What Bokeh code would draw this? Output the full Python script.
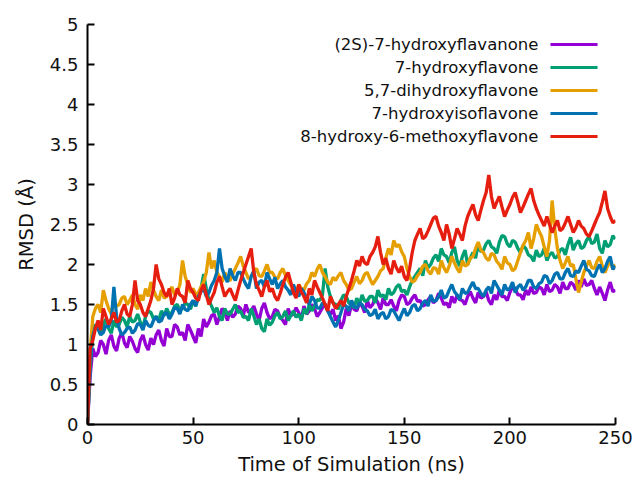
from bokeh.plotting import figure
from bokeh.models import Range1d, FixedTicker, Label
from bokeh.embed import file_html
from bokeh.resources import INLINE

# ---------------- data (RMSD in Å, sampled every 1.25 ns) ----------------
time_ns = [i * 1.25 for i in range(201)]

flavanone_2s = [
    0.0, 0.6, 0.95, 0.85, 0.9, 1.05, 1.0, 0.88, 1.05, 1.12, 0.98, 0.92, 1.08, 1.15, 1.02, 0.96,
    1.1, 1.04, 0.95, 0.9, 1.05, 1.12, 1.0, 0.93, 1.08, 1.0, 1.12, 1.18, 1.05, 0.98, 1.2, 1.1,
    1.1, 1.25, 1.22, 1.12, 1.15, 1.05, 1.25, 1.18, 1.1, 1.02, 1.2, 1.1, 1.32, 1.22, 1.28, 1.36,
    1.38, 1.25, 1.35, 1.45, 1.4, 1.3, 1.42, 1.34, 1.38, 1.48, 1.45, 1.36, 1.5, 1.4, 1.42, 1.48,
    1.38, 1.3, 1.45, 1.52, 1.4, 1.32, 1.35, 1.44, 1.42, 1.34, 1.3, 1.25, 1.45, 1.36, 1.38, 1.46,
    1.4, 1.32, 1.48, 1.38, 1.42, 1.5, 1.45, 1.35, 1.4, 1.46, 1.5, 1.42, 1.38, 1.44, 1.3, 1.36,
    1.2, 1.28, 1.45, 1.36, 1.5, 1.44, 1.42, 1.52, 1.48, 1.4, 1.55, 1.46, 1.5, 1.58, 1.52, 1.44,
    1.58, 1.5, 1.5, 1.56, 1.48, 1.42, 1.55, 1.62, 1.6, 1.5, 1.52, 1.58, 1.62, 1.54, 1.55, 1.48,
    1.5, 1.56, 1.6, 1.52, 1.55, 1.64, 1.58, 1.5, 1.52, 1.46, 1.6, 1.52, 1.62, 1.56, 1.55, 1.5,
    1.6, 1.66, 1.58, 1.52, 1.65, 1.58, 1.6, 1.66, 1.55, 1.5, 1.62, 1.56, 1.68, 1.6, 1.6, 1.55,
    1.65, 1.72, 1.7, 1.62, 1.62, 1.56, 1.68, 1.62, 1.72, 1.64, 1.65, 1.72, 1.7, 1.62, 1.75, 1.66,
    1.68, 1.75, 1.72, 1.64, 1.78, 1.7, 1.7, 1.78, 1.75, 1.68, 1.8, 1.72, 1.82, 1.74, 1.75, 1.8,
    1.7, 1.62, 1.72, 1.64, 1.55, 1.68, 1.78, 1.66, 1.68]

hydroxyflavone_7 = [
    0.0, 0.7, 1.15, 1.25, 1.2, 1.12, 1.25, 1.32, 1.2, 1.14, 1.3, 1.22, 1.25, 1.34, 1.3, 1.22,
    1.35, 1.28, 1.3, 1.38, 1.28, 1.22, 1.35, 1.42, 1.4, 1.32, 1.35, 1.3, 1.42, 1.36, 1.45, 1.38,
    1.4, 1.48, 1.5, 1.42, 1.45, 1.52, 1.5, 1.44, 1.55, 1.48, 1.6, 1.7, 1.88, 1.7, 1.55, 1.48,
    1.4, 1.46, 1.35, 1.3, 1.45, 1.38, 1.38, 1.44, 1.5, 1.4, 1.42, 1.34, 1.35, 1.3, 1.45, 1.36,
    1.25, 1.32, 1.2, 1.16, 1.32, 1.24, 1.28, 1.36, 1.4, 1.32, 1.35, 1.42, 1.3, 1.36, 1.42, 1.34,
    1.38, 1.3, 1.45, 1.38, 1.5, 1.42, 1.48, 1.56, 1.55, 1.62, 1.95, 1.72, 1.6, 1.52, 1.5, 1.44,
    1.55, 1.62, 1.6, 1.52, 1.5, 1.46, 1.58, 1.5, 1.62, 1.54, 1.55, 1.6, 1.6, 1.52, 1.68, 1.6,
    1.62, 1.56, 1.7, 1.62, 1.65, 1.72, 1.75, 1.66, 1.68, 1.62, 1.72, 1.8, 1.85, 1.9, 1.95, 1.86,
    2.05, 1.96, 2.0, 2.08, 2.12, 2.04, 2.2, 2.12, 2.1, 2.02, 2.15, 2.22, 2.05, 1.98, 2.1, 2.18,
    2.0, 2.08, 2.15, 2.08, 2.25, 2.16, 2.18, 2.26, 2.3, 2.22, 2.2, 2.14, 2.28, 2.36, 2.35, 2.26,
    2.22, 2.3, 2.28, 2.2, 2.15, 2.24, 2.2, 2.12, 2.1, 2.04, 2.18, 2.1, 2.12, 2.2, 2.05, 2.12,
    2.15, 2.08, 2.1, 2.18, 2.2, 2.12, 2.25, 2.34, 2.18, 2.26, 2.3, 2.2, 2.22, 2.3, 2.35, 2.26,
    2.28, 2.38, 2.2, 2.14, 2.3, 2.22, 2.25, 2.36, 2.32]

dihydroxyflavone_57 = [
    0.0, 0.9, 1.35, 1.45, 1.5, 1.4, 1.68, 1.55, 1.45, 1.38, 1.55, 1.48, 1.5, 1.58, 1.6, 1.5,
    1.55, 1.62, 1.5, 1.44, 1.62, 1.55, 1.7, 1.6, 1.78, 1.68, 1.6, 1.55, 1.68, 1.58, 1.6, 1.66,
    1.72, 1.62, 1.65, 1.75, 2.05, 1.85, 1.75, 1.65, 1.7, 1.62, 1.65, 1.72, 1.78, 1.9, 2.15, 1.95,
    2.05, 1.9, 1.85, 1.78, 1.9, 1.82, 1.8, 1.88, 1.95, 2.02, 2.1, 1.98, 1.9, 1.82, 1.85, 1.92,
    1.95, 1.86, 1.85, 1.92, 2.0, 1.9, 1.9, 1.84, 1.82, 1.9, 1.95, 1.86, 1.8, 1.74, 1.7, 1.64,
    1.75, 1.7, 1.68, 1.76, 1.8, 1.9, 1.85, 1.94, 2.0, 1.9, 1.85, 1.78, 1.75, 1.84, 1.8, 1.86,
    1.9, 1.8, 1.75, 1.68, 1.7, 1.78, 1.85, 1.76, 1.8, 1.88, 1.9, 1.82, 1.75, 1.8, 1.85, 1.92,
    1.95, 2.08, 2.2, 2.12, 2.3, 2.22, 2.25, 2.16, 2.1, 1.95, 1.85, 1.78, 1.8, 1.86, 1.9, 1.98,
    2.0, 1.92, 1.88, 1.96, 1.95, 1.88, 2.05, 1.96, 1.9, 1.98, 2.1, 2.02, 1.95, 1.9, 2.05, 1.98,
    2.0, 2.08, 2.1, 2.2, 2.28, 2.18, 2.15, 2.08, 2.05, 2.14, 2.12, 2.04, 2.0, 1.94, 2.1, 2.02,
    2.0, 1.92, 1.95, 2.05, 2.15, 2.24, 2.3, 2.4, 2.2, 2.32, 2.5, 2.42, 2.35, 2.22, 2.1, 2.3,
    2.8, 2.45, 2.2, 2.05, 1.95, 2.02, 2.1, 1.98, 2.0, 1.82, 1.65, 1.78, 1.9, 1.98, 2.05, 1.96,
    1.95, 2.04, 2.1, 1.98, 1.9, 1.98, 2.05, 1.94, 2.0]

hydroxyisoflavone_7 = [
    0.0, 0.8, 1.1, 1.22, 1.2, 1.12, 1.15, 1.24, 1.22, 1.3, 1.72, 1.35, 1.2, 1.12, 1.15, 1.2,
    1.22, 1.14, 1.18, 1.26, 1.25, 1.18, 1.3, 1.24, 1.22, 1.3, 1.35, 1.28, 1.3, 1.38, 1.4, 1.32,
    1.38, 1.46, 1.45, 1.38, 1.5, 1.44, 1.42, 1.5, 1.55, 1.48, 1.6, 1.66, 1.7, 1.6, 1.65, 1.74,
    1.8, 1.9, 2.2, 1.95, 1.85, 1.78, 1.95, 1.86, 1.8, 1.9, 1.9, 1.82, 1.75, 1.7, 1.85, 1.92,
    1.7, 1.78, 1.8, 1.72, 1.9, 1.82, 1.75, 1.84, 1.7, 1.76, 1.8, 1.72, 1.68, 1.62, 1.75, 1.66,
    1.6, 1.7, 1.65, 1.58, 1.5, 1.6, 1.55, 1.46, 1.45, 1.52, 1.5, 1.42, 1.35, 1.28, 1.22, 1.3,
    1.4, 1.5, 1.48, 1.42, 1.55, 1.48, 1.45, 1.52, 1.5, 1.44, 1.42, 1.36, 1.38, 1.44, 1.32, 1.38,
    1.4, 1.32, 1.35, 1.44, 1.42, 1.36, 1.3, 1.38, 1.45, 1.36, 1.4, 1.48, 1.5, 1.42, 1.45, 1.52,
    1.55, 1.48, 1.62, 1.54, 1.55, 1.6, 1.68, 1.58, 1.6, 1.68, 1.75, 1.66, 1.62, 1.56, 1.7, 1.64,
    1.65, 1.72, 1.78, 1.7, 1.7, 1.64, 1.6, 1.68, 1.72, 1.64, 1.8, 1.74, 1.68, 1.62, 1.75, 1.68,
    1.7, 1.78, 1.65, 1.72, 1.75, 1.68, 1.72, 1.8, 1.8, 1.72, 1.7, 1.76, 1.78, 1.86, 1.85, 1.76,
    1.8, 1.88, 1.9, 1.82, 1.82, 1.9, 1.95, 1.86, 1.85, 1.92, 1.9, 1.98, 2.05, 1.94, 1.92, 1.86,
    1.85, 1.94, 2.0, 1.9, 1.95, 2.04, 2.1, 1.94, 1.98]

methoxyflavone_8h6m = [
    0.0, 0.95, 1.05, 1.2, 1.3, 1.18, 1.45, 1.35, 1.25, 1.32, 1.4, 1.28, 1.3, 1.42, 1.5, 1.38,
    1.35, 1.5, 1.8, 1.55, 1.5, 1.4, 1.35, 1.45, 1.55, 1.7, 2.0, 1.82, 1.75, 1.65, 1.6, 1.7,
    1.5, 1.58, 1.7, 1.62, 1.6, 1.52, 1.8, 1.7, 1.65, 1.58, 1.55, 1.68, 1.75, 1.62, 1.5, 1.58,
    1.65, 1.78, 1.85, 1.72, 1.6, 1.66, 1.7, 1.62, 1.55, 1.68, 1.8, 1.9, 2.0, 2.1, 2.2, 1.9,
    1.75, 1.68, 1.6, 1.72, 1.8, 1.66, 1.7, 1.6, 1.55, 1.64, 1.75, 1.84, 1.9, 1.78, 1.65, 1.58,
    1.75, 1.66, 1.6, 1.52, 1.7, 1.62, 1.8, 1.72, 1.65, 1.58, 1.5, 1.42, 1.6, 1.52, 1.45, 1.5,
    1.55, 1.48, 1.6, 1.7, 1.8, 1.92, 2.05, 1.98, 2.1, 2.02, 2.0, 2.1, 2.15, 2.22, 2.35, 2.15,
    2.0, 2.08, 1.95, 1.88, 2.05, 1.96, 1.9, 1.98, 1.85, 1.8, 1.95, 2.15, 2.3, 2.38, 2.45, 2.32,
    2.35, 2.42, 2.5, 2.58, 2.6, 2.48, 2.4, 2.3, 2.5, 2.38, 2.2, 2.32, 2.45, 2.38, 2.3, 2.48,
    2.6, 2.68, 2.75, 2.62, 2.55, 2.68, 2.8, 2.9, 3.12, 2.85, 2.7, 2.78, 2.85, 2.72, 2.6, 2.68,
    2.75, 2.84, 2.9, 2.78, 2.65, 2.72, 2.8, 2.88, 2.95, 2.8, 2.7, 2.62, 2.55, 2.48, 2.6, 2.5,
    2.4, 2.48, 2.55, 2.42, 2.45, 2.52, 2.6, 2.5, 2.4, 2.46, 2.55, 2.48, 2.45, 2.38, 2.35, 2.42,
    2.5, 2.58, 2.65, 2.78, 2.92, 2.7, 2.6, 2.52, 2.55]

series_names = ["(2S)-7-hydroxyflavanone", "7-hydroxyflavone", "5,7-dihydroxyflavone",
                "7-hydroxyisoflavone", "8-hydroxy-6-methoxyflavone"]
series_values = [flavanone_2s, hydroxyflavone_7, dihydroxyflavone_57,
                 hydroxyisoflavone_7, methoxyflavone_8h6m]
series_colors = ["#9400D3", "#009E73", "#E69F00", "#0072B2", "#E51E10"]

x_ticks = [0, 50, 100, 150, 200, 250]
x_tick_labels = ["0", "50", "100", "150", "200", "250"]
y_ticks = [0, 0.5, 1, 1.5, 2, 2.5, 3, 3.5, 4, 4.5, 5]
y_tick_labels = ["0", "0.5", "1", "1.5", "2", "2.5", "3", "3.5", "4", "4.5", "5"]

# ---------------- figure ----------------
FONT = "DejaVu Sans"
TEXT_COLOR = "#111111"
p = figure(width=635, height=484, output_backend="svg", toolbar_location=None,
           x_range=Range1d(0, 250), y_range=Range1d(0, 5),
           min_border_left=87, min_border_right=20, min_border_top=24, min_border_bottom=60)
p.outline_line_color = None
p.xgrid.visible = False
p.ygrid.visible = False
p.background_fill_color = "white"
p.border_fill_color = "white"

for vals, col in zip(series_values, series_colors):
    p.line(time_ns, vals, line_color=col, line_width=3.3)

for ax, ticks, labels in ((p.xaxis[0], x_ticks, x_tick_labels), (p.yaxis[0], y_ticks, y_tick_labels)):
    ax.ticker = FixedTicker(ticks=ticks)
    ax.major_label_overrides = {t: l for t, l in zip(ticks, labels)}
    ax.minor_tick_line_color = None
    ax.major_tick_in = 7
    ax.major_tick_out = 0
    ax.major_tick_line_width = 2
    ax.axis_line_width = 2
    ax.axis_line_color = "black"
    ax.major_tick_line_color = "black"
    ax.major_label_text_font = FONT
    ax.major_label_text_font_size = "18px"
    ax.major_label_text_color = TEXT_COLOR
    ax.axis_label_text_font = FONT
    ax.axis_label_text_font_size = "19.5px"
    ax.axis_label_text_font_style = "normal"
    ax.axis_label_text_color = TEXT_COLOR

p.xaxis.axis_label = "Time of Simulation (ns)"
p.yaxis.axis_label = "RMSD (Å)"
p.xaxis.major_label_standoff = 6
p.yaxis.major_label_standoff = 9
p.xaxis.axis_label_standoff = 6
p.yaxis.axis_label_standoff = 9

# ---------------- legend (label left of sample line) ----------------
leg_text_x = 213.5
leg_line_x0, leg_line_x1 = 219.2, 241.5
leg_y0, leg_dy = 4.75, 0.2875
for i, (name, col) in enumerate(zip(series_names, series_colors)):
    yy = leg_y0 - i * leg_dy
    p.add_layout(Label(x=leg_text_x, y=yy, text=name, text_align="right", text_baseline="middle",
                       text_font=FONT, text_font_size="16.5px", text_color=TEXT_COLOR))
    p.segment(x0=[leg_line_x0], y0=[yy], x1=[leg_line_x1], y1=[yy], line_color=col, line_width=3)

open("out.html", "w").write(file_html(p, INLINE))
